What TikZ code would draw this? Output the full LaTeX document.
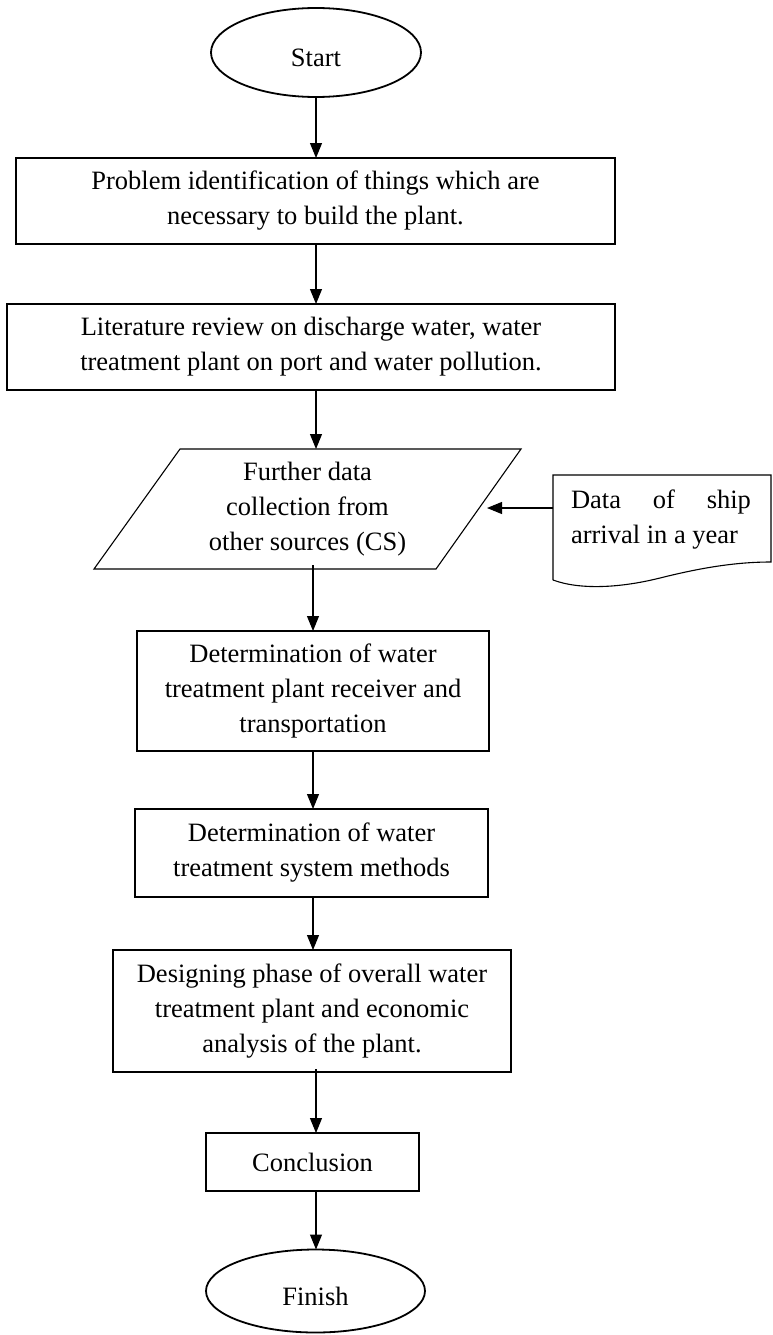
\documentclass[tikz,border=0pt]{standalone}
\usepackage{fontspec}
\setmainfont{Liberation Serif}
\usetikzlibrary{shapes.geometric,arrows.meta}
\begin{document}
\begin{tikzpicture}[x=1pt,y=-1pt,
  every node/.style={font=\fontsize{26.5}{35}\selectfont, inner sep=0pt, outer sep=0pt},
  box/.style={draw, line width=1.1pt, rectangle, align=center},
  term/.style={draw, ellipse, line width=1.8pt, text height=29pt, text depth=0pt},
  arr/.style={line width=1.1pt, -{Triangle[width=12pt,length=15pt]}}]
\useasboundingbox (0,0) rectangle (772,1335);
% nodes
\node[term, minimum width=210pt, minimum height=89pt] (start) at (316,52.5) {Start};
\node[box, minimum width=599pt, minimum height=86pt] (b1) at (315.5,201)
  {Problem identification of things which are\\necessary to build the plant.};
\node[box, minimum width=608pt, minimum height=86pt] (b2) at (311,347)
  {Literature review on discharge water, water\\treatment plant on port and water pollution.};
\node[minimum width=427pt, minimum height=120pt, align=center] (pg) at (307.5,509)
  {Further data\\collection from\\other sources (CS)};
\draw[line width=1.1pt] (180,449) -- (521,449) -- (436,569) -- (94,569) -- cycle;
\node[box, minimum width=352pt, minimum height=120pt] (b3) at (313,691)
  {Determination of water\\treatment plant receiver and\\transportation};
\node[box, minimum width=353pt, minimum height=88pt] (b4) at (311.5,853)
  {Determination of water\\treatment system methods};
\node[box, minimum width=398pt, minimum height=122pt] (b5) at (312,1011)
  {Designing phase of overall water\\treatment plant and economic\\analysis of the plant.};
\node[box, minimum width=213pt, minimum height=58pt] (b6) at (312.5,1162) {Conclusion};
\node[term, minimum width=219pt, minimum height=83pt] (finish) at (315.5,1291) {Finish};
% document shape
\node[minimum width=219pt, minimum height=105pt] (doc) at (662.5,527.5) {};
\draw[line width=1.1pt] (553,580) -- (553,475) -- (771,475) -- (771,562)
  .. controls (735,562) and (700,568) .. (660,578)
  .. controls (620,588) and (580,590) .. (553,580);
\node[anchor=north west, align=left] (doctext) at (571,490)
  {\hbox to 180pt{Data\hfill of\hfill ship}\\arrival in a year};
\coordinate (docin) at (553,508);
\coordinate (pgin) at (487,508);
% connectors
\coordinate (c1) at (316,0);
\coordinate (c2) at (313,0);
\draw[arr] (start.south -| c1) -- (b1.north -| c1);
\draw[arr] (b1.south -| c1) -- (b2.north -| c1);
\draw[arr] (b2.south -| c1) -- (pg.north -| c1);
\draw[arr] ([yshift=4pt]pg.south -| c2) -- (b3.north -| c2);
\draw[arr] (b3.south -| c2) -- (b4.north -| c2);
\draw[arr] (b4.south -| c2) -- (b5.north -| c2);
\draw[arr] ([yshift=3pt]b5.south -| c1) -- (b6.north -| c1);
\draw[arr] (b6.south -| c1) -- (finish.north -| c1);
\draw[arr] (docin) -- (pgin);
\end{tikzpicture}
\end{document}
